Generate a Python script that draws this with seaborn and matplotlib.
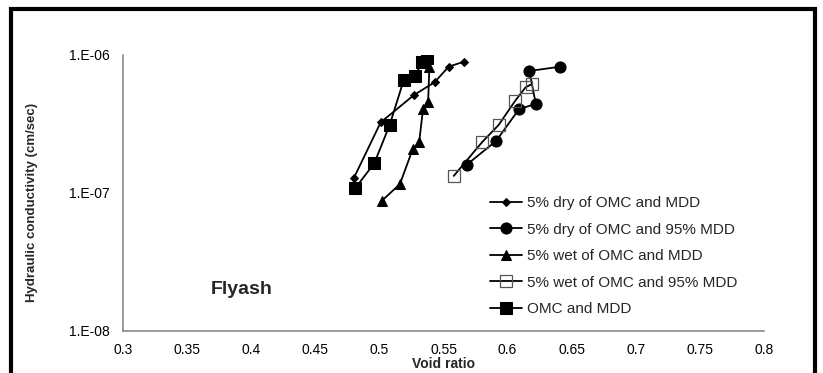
import matplotlib
matplotlib.use("Agg")
import matplotlib.pyplot as plt
import seaborn as sns
import pandas as pd
from matplotlib.ticker import FixedLocator, LogLocator, MultipleLocator, NullFormatter, FixedFormatter
from matplotlib.patches import Rectangle

# Void ratio (e) and hydraulic conductivity (k, cm/sec) for each compaction state
dry_mdd_e = [0.480, 0.501, 0.527, 0.543, 0.554, 0.566]
dry_mdd_k = [1.28e-7, 3.25e-7, 5.13e-7, 6.34e-7, 8.23e-7, 8.95e-7]

dry_95_e = [0.568, 0.591, 0.609, 0.622, 0.617, 0.641]
dry_95_k = [1.60e-7, 2.38e-7, 4.06e-7, 4.42e-7, 7.66e-7, 8.23e-7]

wet_mdd_e = [0.502, 0.516, 0.526, 0.531, 0.534, 0.538, 0.539]
wet_mdd_k = [8.8e-8, 1.16e-7, 2.08e-7, 2.33e-7, 4.04e-7, 4.59e-7, 8.2e-7]

wet_95_e = [0.558, 0.580, 0.593, 0.606, 0.614, 0.619]
wet_95_k = [1.33e-7, 2.33e-7, 3.11e-7, 4.67e-7, 5.83e-7, 6.16e-7]

omc_e = [0.481, 0.496, 0.508, 0.519, 0.528, 0.533, 0.537]
omc_k = [1.08e-7, 1.64e-7, 3.11e-7, 6.59e-7, 7.08e-7, 8.85e-7, 9.46e-7]

labels = ["5% dry of OMC and MDD", "5% dry of OMC and 95% MDD",
          "5% wet of OMC and MDD", "5% wet of OMC and 95% MDD", "OMC and MDD"]

x_ticks = [0.3, 0.35, 0.4, 0.45, 0.5, 0.55, 0.6, 0.65, 0.7, 0.75, 0.8]
x_tick_labels = ["0.3", "0.35", "0.4", "0.45", "0.5", "0.55", "0.6", "0.65", "0.7", "0.75", "0.8"]
y_ticks = [1e-8, 1e-7, 1e-6]
y_tick_labels = ["1.E-08", "1.E-07", "1.E-06"]

sns.set_theme(style="white")
plt.rcParams["font.family"] = ["Liberation Sans", "DejaVu Sans"]

W, H = 823, 373
fig = plt.figure(figsize=(W / 100, H / 100), dpi=100)
ax = fig.add_axes([123 / W, 1 - 331 / H, (764 - 123) / W, (331 - 55) / H])

series = [
    (dry_mdd_e, dry_mdd_k, dict(marker="D", markersize=4.5, mfc="black", mec="black")),
    (dry_95_e, dry_95_k, dict(marker="o", markersize=8, mfc="black", mec="black")),
    (wet_mdd_e, wet_mdd_k, dict(marker="^", markersize=7.5, mfc="black", mec="black")),
    (wet_95_e, wet_95_k, dict(marker="s", markersize=8, mfc="none", mec="#555555", mew=0.9)),
    (omc_e, omc_k, dict(marker="s", markersize=8, mfc="black", mec="black")),
]

for (e, k, style), lab in zip(series, labels):
    df = pd.DataFrame({"e": e, "k": k})
    sns.lineplot(data=df, x="e", y="k", ax=ax, sort=False, estimator=None,
                 color="black", linewidth=1.3, label=lab, **style)

ax.set_yscale("log")
ax.set_xlim(0.3, 0.8)
ax.set_ylim(1e-8, 1e-6)

ax.xaxis.set_major_locator(FixedLocator(x_ticks))
ax.xaxis.set_major_formatter(FixedFormatter(x_tick_labels))
ax.xaxis.set_minor_locator(MultipleLocator(0.01))
ax.yaxis.set_major_locator(FixedLocator(y_ticks))
ax.yaxis.set_major_formatter(FixedFormatter(y_tick_labels))
ax.yaxis.set_minor_locator(LogLocator(base=10, subs=range(2, 10)))
ax.yaxis.set_minor_formatter(NullFormatter())

for side in ["top", "right"]:
    ax.spines[side].set_visible(False)
for side in ["left", "bottom"]:
    ax.spines[side].set_color("#808080")
    ax.spines[side].set_linewidth(1.1)

ax.tick_params(axis="both", which="major", direction="inout", length=7, width=1,
               color="#808080", labelsize=10, labelcolor="black")
ax.tick_params(axis="y", which="major", pad=6)
ax.tick_params(axis="x", which="major", pad=5)
ax.tick_params(axis="both", which="minor", direction="in", length=3, width=0.8,
               color="#808080")

ax.set_xlabel("Void ratio", fontsize=10, fontweight="bold", labelpad=0)
ax.set_ylabel("Hydraulic conductivity (cm/sec)", fontsize=9.5, fontweight="bold")
ax.yaxis.set_label_coords((38 - 123) / (764 - 123), (331 - 202) / (331 - 55))

ax.text((211 - 123) / (764 - 123), (331 - 290) / (331 - 55), "Flyash",
        transform=ax.transAxes, ha="left", va="center", fontsize=14, fontweight="bold")

ax.legend(loc="upper left", bbox_to_anchor=(490 / W, 1 - 196 / H),
          bbox_transform=fig.transFigure, frameon=False, fontsize=11,
          handlelength=2.1, handletextpad=0.3, labelspacing=0.82,
          borderpad=0, borderaxespad=0)

fig.patches.append(Rectangle((11 / W, -0.1), (815 - 11) / W, 1 - 9 / H + 0.1,
                             transform=fig.transFigure, fill=False,
                             linewidth=3, edgecolor="black"))

fig.savefig("out.png", dpi=100)
